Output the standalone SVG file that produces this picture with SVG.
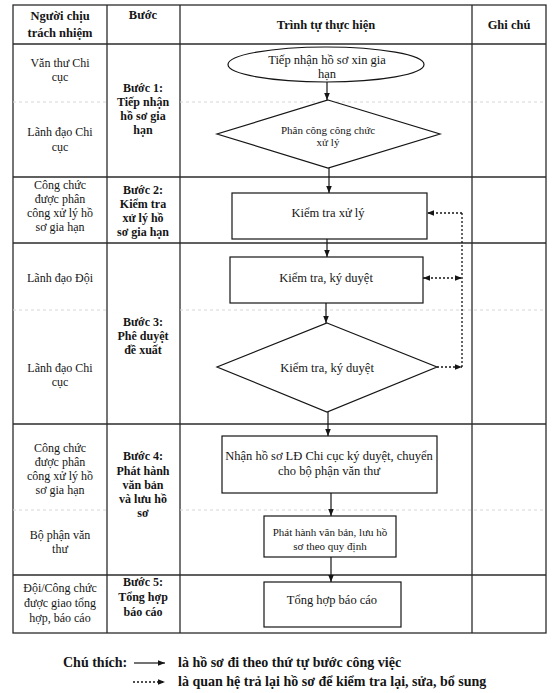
<svg xmlns="http://www.w3.org/2000/svg" width="556" height="693" viewBox="0 0 556 693">
<defs>
<style>
.tbl{stroke:#2b2b2b;stroke-width:1.3;fill:none}
.faint{stroke:#d6d6d6;stroke-width:1;stroke-dasharray:3,3;fill:none}
.shape{fill:#fff;stroke:#151515;stroke-width:1.2}
.t{font-family:"Liberation Serif","Times New Roman",serif;font-size:12px;fill:#151515;text-anchor:middle}
.h{font-size:12.5px}
.f{font-size:12.5px}
.s{font-size:11px}
.b{font-weight:bold}
.lg{font-family:"Liberation Serif","Times New Roman",serif;font-size:14px;font-weight:bold;fill:#151515}
.solid{stroke:#151515;stroke-width:1.2;fill:none}
.dot{stroke:#151515;stroke-width:1.3;fill:none;stroke-dasharray:2,2}
</style>
<marker id="ah" viewBox="0 0 10 10" refX="10" refY="5" markerWidth="7" markerHeight="7" markerUnits="userSpaceOnUse" orient="auto-start-reverse">
<path d="M0,1 L10,5 L0,9 z" fill="#151515"/>
</marker>
</defs>
<rect width="556" height="693" fill="#fff"/>

<g id="table">
<rect class="tbl" x="13" y="5" width="533" height="628"/>
<line class="tbl" x1="107" y1="5" x2="107" y2="633"/>
<line class="tbl" x1="180" y1="5" x2="180" y2="633"/>
<line class="tbl" x1="472" y1="5" x2="472" y2="633"/>
<line class="tbl" x1="13" y1="44" x2="546" y2="44"/>
<line class="tbl" x1="13" y1="177" x2="546" y2="177"/>
<line class="tbl" x1="13" y1="243" x2="546" y2="243"/>
<line class="tbl" x1="13" y1="424" x2="546" y2="424"/>
<line class="tbl" x1="13" y1="575" x2="546" y2="575"/>
<path class="faint" d="M13,102 H107 M180,102 H546 M13,310 H107 M180,310 H546 M13,510 H107 M180,510 H546"/>
<text class="t b h" x="60" y="20">Người chịu</text>
<text class="t b h" x="60" y="37">trách nhiệm</text>
<text class="t b h" x="143" y="19">Bước</text>
<text class="t b h" x="326" y="29">Trình tự thực hiện</text>
<text class="t b h" x="509" y="29">Ghi chú</text>
</g>

<g id="row1">
<text class="t" x="60" y="67">Văn thư Chi</text>
<text class="t" x="60" y="81">cục</text>
<text class="t" x="60" y="136">Lãnh đạo Chi</text>
<text class="t" x="60" y="151">cục</text>
<text class="t b" x="143" y="92">Bước 1:</text>
<text class="t b" x="143" y="106">Tiếp nhận</text>
<text class="t b" x="143" y="120">hồ sơ gia</text>
<text class="t b" x="143" y="134">hạn</text>
</g>
<g id="row2">
<text class="t" x="60" y="189">Công chức</text>
<text class="t" x="60" y="203">được phân</text>
<text class="t" x="60" y="217">công xử lý hồ</text>
<text class="t" x="60" y="231">sơ gia hạn</text>
<text class="t b" x="143" y="194">Bước 2:</text>
<text class="t b" x="143" y="208">Kiểm tra</text>
<text class="t b" x="143" y="222">xử lý hồ</text>
<text class="t b" x="143" y="236">sơ gia hạn</text>
</g>
<g id="row3">
<text class="t" x="60" y="282">Lãnh đạo Đội</text>
<text class="t" x="60" y="372">Lãnh đạo Chi</text>
<text class="t" x="60" y="386">cục</text>
<text class="t b" x="143" y="326">Bước 3:</text>
<text class="t b" x="143" y="340">Phê duyệt</text>
<text class="t b" x="143" y="354">đề xuất</text>
</g>
<g id="row4">
<text class="t" x="60" y="452">Công chức</text>
<text class="t" x="60" y="466">được phân</text>
<text class="t" x="60" y="480">công xử lý hồ</text>
<text class="t" x="60" y="494">sơ gia hạn</text>
<text class="t" x="60" y="539">Bộ phận văn</text>
<text class="t" x="60" y="553">thư</text>
<text class="t b" x="143" y="460">Bước 4:</text>
<text class="t b" x="143" y="475">Phát hành</text>
<text class="t b" x="143" y="489">văn bản</text>
<text class="t b" x="143" y="503">và lưu hồ</text>
<text class="t b" x="143" y="517">sơ</text>
</g>
<g id="row5">
<text class="t" x="60" y="592">Đội/Công chức</text>
<text class="t" x="60" y="607">được giao tổng</text>
<text class="t" x="60" y="622">hợp, báo cáo</text>
<text class="t b" x="143" y="586">Bước 5:</text>
<text class="t b" x="143" y="601">Tổng hợp</text>
<text class="t b" x="143" y="616">báo cáo</text>
</g>

<g id="n1">
<ellipse class="shape" cx="326" cy="64.5" rx="98" ry="17.5"/>
<text class="t f" x="327" y="64">Tiếp nhận hồ sơ xin gia</text>
<text class="t f" x="327" y="78">hạn</text>
</g>
<g id="n2">
<polygon class="shape" points="328,100 440,134 328,168 217,134"/>
<text class="t s" x="328" y="134">Phân công công chức</text>
<text class="t s" x="328" y="146">xử lý</text>
</g>
<g id="n3">
<rect class="shape" x="232" y="193" width="195" height="46"/>
<text class="t f" x="328" y="217">Kiểm tra xử lý</text>
</g>
<g id="n4">
<rect class="shape" x="230" y="257" width="193" height="46"/>
<text class="t f" x="326" y="282">Kiểm tra, ký duyệt</text>
</g>
<g id="n5">
<polygon class="shape" points="327,323 437,367 327,412 217,367"/>
<text class="t f" x="327" y="372">Kiểm tra, ký duyệt</text>
</g>
<g id="n6">
<rect class="shape" x="222" y="436" width="215" height="57"/>
<text class="t f" x="329" y="460">Nhận hồ sơ LĐ Chi cục ký duyệt, chuyển</text>
<text class="t f" x="329" y="475">cho bộ phận văn thư</text>
</g>
<g id="n7">
<rect class="shape" x="264" y="516" width="132" height="41"/>
<text class="t s" x="330" y="536">Phát hành văn bản, lưu hồ</text>
<text class="t s" x="330" y="550">sơ theo quy định</text>
</g>
<g id="n8">
<rect class="shape" x="264" y="582" width="137" height="45"/>
<text class="t f" x="332" y="604">Tổng hợp báo cáo</text>
</g>

<g id="connectors">
<path class="solid" d="M327,82 V100" marker-end="url(#ah)"/>
<path class="solid" d="M329,168 V193" marker-end="url(#ah)"/>
<path class="solid" d="M327,239 V257" marker-end="url(#ah)"/>
<path class="solid" d="M326,303 V323" marker-end="url(#ah)"/>
<path class="solid" d="M328,412 V436" marker-end="url(#ah)"/>
<path class="solid" d="M331,493 V516" marker-end="url(#ah)"/>
<path class="solid" d="M331,557 V582" marker-end="url(#ah)"/>
<path class="dot" d="M462,213 V367"/>
<path class="dot" d="M462,213 H427" marker-end="url(#ah)"/>
<path class="dot" d="M423,278 H462" marker-start="url(#ah)" marker-end="url(#ah)"/>
<path class="dot" d="M437,367 H462" marker-end="url(#ah)"/>
</g>

<g id="legend">
<text class="lg" x="63" y="667">Chú thích:</text>
<path class="solid" d="M134,663 H165" marker-end="url(#ah)"/>
<text class="lg" x="178" y="667">là hồ sơ đi theo thứ tự bước công việc</text>
<path class="dot" d="M133,682 H165" marker-end="url(#ah)"/>
<text class="lg" x="178" y="686">là quan hệ trả lại hồ sơ để kiểm tra lại, sửa, bổ sung</text>
</g>
</svg>
